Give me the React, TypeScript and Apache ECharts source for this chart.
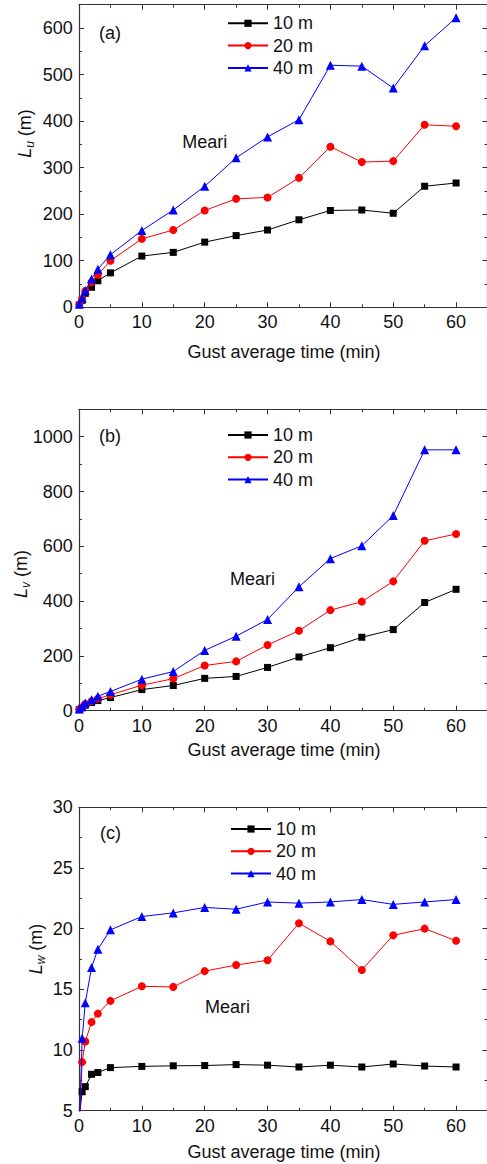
import React, { useEffect, useRef } from "react";
import * as echarts from "echarts";

const FONT = "'Liberation Sans', Arial, Helvetica, sans-serif";
const TEXT = "#111111";
const AXIS = "#333333";

const gustTimes = [0.05, 0.5, 1, 2, 3, 5, 10, 15, 20, 25, 30, 35, 40, 45, 50, 55, 60];
const seriesNames = ["10 m", "20 m", "40 m"];
const seriesColors = ["#000000", "#ff0000", "#0000ff"];
const seriesSymbols = ["rect", "circle", "triangle"];
const seriesSymbolSizes = [7, 8, 9];

const lu10 = [5, 15, 30, 43, 57, 74, 110, 118, 140, 154, 166, 188, 208, 209, 202, 260, 267];
const lu20 = [6, 18, 35, 54, 70, 100, 147, 166, 208, 233, 236, 278, 345, 312, 314, 392, 389];
const lu40 = [7, 20, 36, 61, 82, 113, 165, 209, 260, 321, 366, 403, 520, 518, 471, 562, 622];

const lv10 = [4, 10, 20, 30, 37, 48, 77, 92, 118, 125, 158, 196, 230, 268, 296, 395, 443];
const lv20 = [5, 12, 25, 35, 44, 58, 93, 117, 165, 180, 240, 292, 367, 398, 472, 620, 645];
const lv40 = [6, 15, 28, 40, 53, 70, 115, 143, 220, 272, 333, 452, 555, 602, 712, 952, 952];

const lw10 = [4.5, 6.56, 6.98, 8.0, 8.15, 8.55, 8.65, 8.7, 8.72, 8.8, 8.75, 8.6, 8.75, 8.6, 8.85, 8.68, 8.6];
const lw20 = [3.8, 9.0, 10.7, 12.3, 13.0, 14.05, 15.25, 15.2, 16.5, 17.0, 17.4, 20.45, 18.95, 16.6, 19.45, 20.0, 19.0];
const lw40 = [3.4, 10.96, 13.9, 16.8, 18.3, 19.9, 21.0, 21.3, 21.75, 21.6, 22.2, 22.1, 22.2, 22.4, 22.0, 22.2, 22.4];

const xTitle = "Gust average time (min)";
const panelLabels = ["(a)", "(b)", "(c)"];
const subscripts = ["u", "v", "w"];
const annotation = "Meari";

const xRange = { min: 0, max: 65, major: 10, minor: 5 };
const yRanges = [
  { min: 0, max: 650, major: 100, minor: 50 },
  { min: 0, max: 1100, major: 200, minor: 100 },
  { min: 5, max: 30, major: 5, minor: 2.5 },
];
const panelData = [
  [lu10, lu20, lu40],
  [lv10, lv20, lv40],
  [lw10, lw20, lw40],
];

// layout (pixels)
const grids = [
  { left: 79, top: 4.7, width: 408.5, height: 302.6 },
  { left: 79, top: 409.3, width: 408.5, height: 301.4 },
  { left: 79, top: 807.3, width: 408.5, height: 303.4 },
];
const xLabelMargins = [5.4, 6.3, 6.3];
const xTitlePos = [
  { x: 284, y: 352 },
  { x: 284, y: 750 },
  { x: 284, y: 1151.7 },
];
const legendPos = [
  { left: 227, top: 14.3 },
  { left: 227, top: 426 },
  { left: 230, top: 820 },
];
const labelPos = [
  { x: 99, y: 33 },
  { x: 99, y: 436 },
  { x: 100, y: 832.7 },
];
const annotationPos = [
  { x: 204.7, y: 142 },
  { x: 252.5, y: 579 },
  { x: 227.5, y: 1006.7 },
];
const yTitlePos = [
  { x: 25, y: 133.5 },
  { x: 21, y: 574 },
  { x: 36, y: 949 },
];

function tickAxis(gridIndex: number, r: any, position: string, isMajor: boolean, withLabels: boolean, margin = 6) {
  const steps = (r.max - r.min) / r.major;
  const maxOnTick = Math.abs(steps - Math.round(steps)) < 1e-9;
  return {
    type: "value",
    gridIndex,
    position,
    min: r.min,
    max: r.max,
    interval: isMajor ? r.major : r.minor,
    axisLine: { show: isMajor, onZero: false, lineStyle: { color: AXIS, width: 1.2 } },
    axisTick: { show: true, inside: true, length: isMajor ? 5 : 3, lineStyle: { color: AXIS, width: 1 } },
    axisLabel: withLabels
      ? {
          show: true,
          showMaxLabel: maxOnTick,
          showMinLabel: true,
          color: TEXT,
          fontSize: 18,
          lineHeight: 18,
          fontFamily: FONT,
          margin,
          formatter: (v: number) => String(v),
        }
      : { show: false },
    splitLine: { show: false },
  };
}

export default function App() {
  const ref = useRef<HTMLDivElement>(null);

  useEffect(() => {
    if (!ref.current) return;
    const chart = echarts.init(ref.current, undefined, { renderer: "svg" });

    const xAxes: any[] = [];
    const yAxes: any[] = [];
    const series: any[] = [];
    const legends: any[] = [];
    const graphics: any[] = [];

    grids.forEach((g, gi) => {
      const yr = yRanges[gi];
      const xBase = xAxes.length;
      const yBase = yAxes.length;
      xAxes.push(
        tickAxis(gi, xRange, "bottom", true, true, xLabelMargins[gi]),
        tickAxis(gi, xRange, "bottom", false, false),
        tickAxis(gi, xRange, "top", true, false),
        tickAxis(gi, xRange, "top", false, false)
      );
      yAxes.push(
        tickAxis(gi, yr, "left", true, true, 6.3),
        tickAxis(gi, yr, "left", false, false),
        tickAxis(gi, yr, "right", true, false),
        tickAxis(gi, yr, "right", false, false)
      );
      panelData[gi].forEach((vals, si) => {
        series.push({
          type: "line",
          name: seriesNames[si],
          xAxisIndex: xBase,
          yAxisIndex: yBase,
          data: gustTimes.map((t, k) => [t, vals[k]]),
          symbol: seriesSymbols[si],
          symbolSize: seriesSymbolSizes[si],
          showAllSymbol: true,
          color: seriesColors[si],
          itemStyle: { color: seriesColors[si] },
          lineStyle: { color: seriesColors[si], width: 1 },
          clip: true,
          z: 3 + si,
        });
      });
      legends.push({
        show: true,
        orient: "vertical",
        left: legendPos[gi].left,
        top: legendPos[gi].top,
        padding: 0,
        itemWidth: 40,
        itemHeight: 9,
        itemGap: 4.3,
        selectedMode: false,
        data: seriesNames,
        textStyle: { color: TEXT, fontSize: 18, lineHeight: 18, fontFamily: FONT },
      });
      graphics.push(
        {
          type: "text",
          x: xTitlePos[gi].x,
          y: xTitlePos[gi].y,
          style: { text: xTitle, fontSize: 18, fontFamily: FONT, fill: TEXT, align: "center", verticalAlign: "middle" },
        },
        {
          type: "text",
          x: labelPos[gi].x,
          y: labelPos[gi].y,
          style: { text: panelLabels[gi], fontSize: 18, fontFamily: FONT, fill: TEXT, align: "left", verticalAlign: "middle" },
        },
        {
          type: "text",
          x: annotationPos[gi].x,
          y: annotationPos[gi].y,
          style: { text: annotation, fontSize: 18, fontFamily: FONT, fill: TEXT, align: "center", verticalAlign: "middle" },
        },
        {
          type: "text",
          x: yTitlePos[gi].x,
          y: yTitlePos[gi].y,
          rotation: Math.PI / 2,
          style: {
            text: `{i|L}{s|${subscripts[gi]}}{n| (m)}`,
            align: "center",
            verticalAlign: "middle",
            fill: TEXT,
            fontSize: 18,
            fontFamily: FONT,
            rich: {
              i: { fontSize: 18, fontStyle: "italic", fontFamily: FONT, fill: TEXT, lineHeight: 22 },
              s: { fontSize: 12, fontStyle: "italic", fontFamily: FONT, fill: TEXT, lineHeight: 12, verticalAlign: "bottom" },
              n: { fontSize: 18, fontFamily: FONT, fill: TEXT, lineHeight: 22 },
            },
          },
        }
      );
    });

    chart.setOption({
      animation: false,
      backgroundColor: "#ffffff",
      textStyle: { fontFamily: FONT },
      grid: grids.map((g) => ({ ...g, containLabel: false, outerBoundsMode: "none" })),
      xAxis: xAxes,
      yAxis: yAxes,
      legend: legends,
      series,
      graphic: { elements: graphics },
    });

    return () => chart.dispose();
  }, []);

  return (
    <div
      ref={ref}
      style={{ position: "absolute", left: 0, top: 0, width: 487, height: 1164, background: "#fff" }}
    />
  );
}
